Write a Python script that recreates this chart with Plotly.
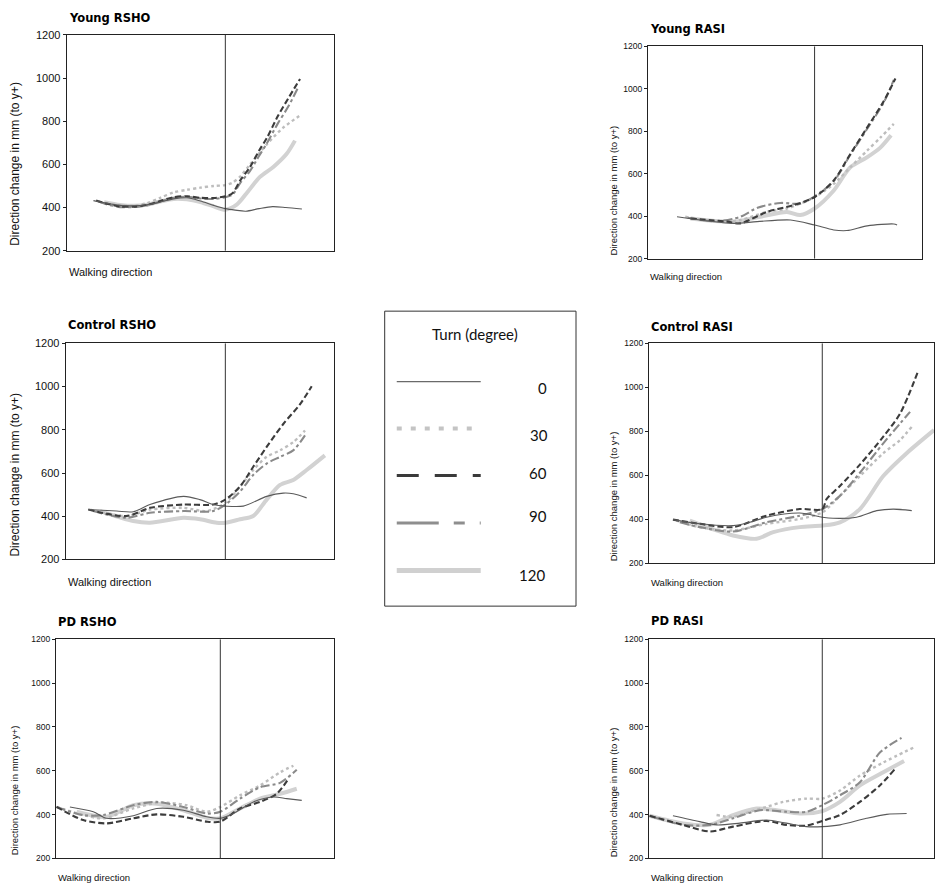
import plotly.graph_objects as go

W, H = 952, 894

# ---------------- data (x = % of walking path shown, y = mm) ----------------
TURNS = ["0", "30", "60", "90", "120"]
Y_TICKS = [200, 400, 600, 800, 1000, 1200]

young_rsho = {
    "0":   ([10, 15, 20, 25, 30, 35, 40, 45, 50, 55, 59.35, 63, 67, 72, 77, 82, 88],
            [432, 420, 410, 408, 413, 425, 440, 445, 430, 410, 395, 388, 383, 395, 404, 400, 393]),
    "30":  ([12.5, 20, 25, 30, 35, 40, 45, 50, 55, 59.35, 62, 65, 68.6, 75, 81, 87.9],
            [425, 410, 408, 420, 445, 470, 482, 492, 500, 504, 515, 545, 600, 695, 770, 832]),
    "60":  ([11, 15, 20, 25, 30, 35, 40, 45, 50, 55, 59.35, 62, 65, 68.6, 72, 75, 79, 83, 87.3],
            [432, 418, 405, 404, 412, 430, 448, 452, 445, 444, 452, 466, 527, 588, 664, 725, 824, 908, 996]),
    "90":  ([12, 15, 20, 25, 30, 35, 40, 45, 50, 55, 59.35, 62, 65, 68.6, 72, 75, 79, 83, 86.5],
            [428, 415, 402, 402, 410, 428, 445, 450, 442, 440, 448, 460, 515, 570, 640, 700, 790, 870, 955]),
    "120": ([14, 20, 25, 30, 35, 40, 45, 50, 55, 59.35, 63.6, 67.3, 72.3, 77.3, 82.3, 85.4],
            [425, 412, 408, 413, 428, 440, 438, 425, 405, 390, 413, 466, 542, 588, 649, 710]),
}

young_rasi = {
    "0":   ([10.6, 20, 31.3, 39.8, 52, 60.8, 67.8, 72.6, 80, 89.7, 90.9],
            [397, 380, 366, 374, 382, 358, 335, 332, 354, 363, 358]),
    "30":  ([13.6, 25.2, 33.7, 43.4, 50.7, 60.8, 67.8, 73.8, 79.9, 84.8, 89.7],
            [397, 374, 382, 420, 436, 490, 552, 630, 708, 770, 835]),
    "60":  ([15.5, 28.8, 33.7, 43.4, 53.2, 60.8, 67.8, 73.8, 79.9, 86, 90.3],
            [389, 374, 366, 420, 452, 490, 568, 692, 816, 941, 1049]),
    "90":  ([14.5, 25, 33.7, 40, 48.3, 55.6, 60.8, 67.8, 73.8, 79.9, 86, 89.7],
            [392, 376, 397, 440, 462, 459, 493, 565, 688, 810, 935, 1042]),
    "120": ([15.5, 31.3, 41, 50.7, 55.6, 60.8, 67.8, 73.8, 79.9, 84.8, 88.7],
            [389, 374, 397, 420, 405, 436, 521, 630, 677, 723, 781]),
}

control_rsho = {
    "0":   ([8.4, 19, 25.2, 31.4, 43.9, 50, 55, 59.5, 66.2, 74.9, 81.1, 84.8, 89.8],
            [431, 424, 421, 454, 492, 477, 454, 447, 447, 492, 507, 504, 485]),
    "30":  ([9.1, 22.7, 31.4, 43.9, 52.5, 59.5, 65, 69.9, 74.9, 79.9, 84.8, 89.2],
            [431, 401, 431, 439, 424, 462, 538, 614, 675, 705, 743, 797]),
    "60":  ([8.4, 22.7, 31.4, 43.9, 55, 59.5, 65, 69.9, 74.9, 81.1, 87.3, 91.7],
            [431, 401, 439, 454, 454, 477, 538, 629, 721, 827, 918, 1002]),
    "90":  ([10.3, 22.7, 31.4, 43.9, 55, 59.5, 65, 69.9, 74.9, 79.9, 84.8, 89.2],
            [424, 393, 416, 424, 424, 454, 515, 591, 644, 675, 705, 774]),
    "120": ([12.8, 25.2, 31.4, 43.9, 50.1, 56.3, 59.5, 65, 69.9, 74.9, 79.9, 84.8, 89.8, 96.6],
            [424, 378, 370, 393, 386, 370, 370, 386, 401, 477, 545, 568, 614, 682]),
}

control_rasi = {
    "0":   ([8.4, 17.8, 29.5, 35.4, 41.2, 52.9, 60.8, 64.6, 72.8, 79.9, 85.7, 92.2],
            [399, 380, 372, 387, 410, 429, 410, 405, 410, 440, 447, 440]),
    "30":  ([9.6, 17.8, 29.5, 41.2, 52.9, 60.8, 67, 74, 82.2, 88.1, 92.2],
            [395, 365, 350, 380, 402, 432, 507, 597, 701, 761, 821]),
    "60":  ([8.4, 17.8, 29.5, 41.2, 52.9, 60.8, 62.3, 67, 74, 82.2, 88.1, 94.5],
            [399, 380, 365, 417, 447, 447, 492, 552, 649, 776, 881, 1076]),
    "90":  ([10.8, 17.8, 29.5, 41.2, 52.9, 60.8, 67, 74, 82.2, 88.1, 91.6],
            [387, 365, 345, 387, 417, 447, 507, 612, 746, 836, 889]),
    "120": ([14.3, 23.7, 29.5, 37.7, 43.6, 52.9, 60.8, 67, 74, 82.2, 90.4, 100],
            [395, 350, 327, 312, 342, 365, 372, 387, 447, 597, 701, 806]),
}

pd_rsho = {
    "0":   ([5, 13.4, 18.2, 27.8, 36.2, 45.8, 54.2, 59.1, 63.8, 71, 78.2, 83, 88.4],
            [435, 413, 383, 395, 428, 420, 390, 383, 405, 458, 480, 473, 465]),
    "30":  ([0.2, 9.8, 17, 27.8, 37.4, 47, 54.2, 59.1, 66.2, 73.4, 80.6, 85.4],
            [435, 398, 383, 428, 455, 443, 413, 435, 488, 533, 593, 623]),
    "60":  ([0.2, 9.8, 18.2, 27.8, 36.2, 45.8, 54.2, 59.1, 66.2, 73.4, 79.4, 83.6],
            [435, 375, 360, 383, 401, 390, 368, 368, 428, 458, 495, 563]),
    "90":  ([0.2, 9.8, 17, 27.8, 36.2, 45.8, 54.2, 59.1, 66.2, 73.4, 80.6, 86.6],
            [435, 398, 398, 443, 458, 435, 405, 413, 473, 525, 545, 605]),
    "120": ([7.4, 18.2, 27.8, 36.2, 45.8, 54.2, 59.1, 66.2, 73.4, 80.6, 86.6],
            [413, 390, 443, 450, 420, 386, 383, 428, 473, 495, 518]),
}

pd_rasi = {
    "0":   ([8.4, 17.8, 23.7, 31.9, 41.2, 48.2, 55.3, 60.8, 67, 76.3, 83.4, 90.4],
            [395, 368, 353, 361, 375, 361, 345, 345, 353, 383, 401, 405]),
    "30":  ([23.7, 29.5, 35.4, 41.2, 47.1, 55.3, 60.8, 67, 74, 82.2, 92.7],
            [398, 390, 413, 435, 458, 473, 473, 510, 578, 638, 705]),
    "60":  ([0.2, 11.9, 21.3, 29.5, 41.2, 48.2, 55.3, 60.8, 67, 74, 81, 86.3],
            [395, 353, 323, 345, 371, 353, 350, 371, 398, 458, 533, 608]),
    "90":  ([0.2, 11.9, 21.3, 29.5, 38.9, 48.2, 55.3, 60.8, 67, 74, 81, 88.6],
            [395, 353, 353, 383, 420, 413, 413, 443, 488, 548, 683, 750]),
    "120": ([0.2, 11.9, 21.3, 29.5, 37.7, 44.8, 52.9, 60.8, 67, 74, 82.2, 89.5],
            [395, 360, 353, 398, 428, 420, 405, 416, 458, 533, 593, 645]),
}

PANEL_TITLES = ["Young RSHO", "Young RASI", "Control RSHO", "Control RASI", "PD RSHO", "PD RASI"]
PANEL_DATA = [young_rsho, young_rasi, control_rsho, control_rasi, pd_rsho, pd_rasi]
TURN_POINT = [59.35, 60.8, 59.5, 60.8, 59.1, 60.8]   # x where the turn starts (vertical line)

# ---------------- styles ----------------
STYLE = {
    "0":   dict(color="#5a5a5a", width=1.1, dash="solid"),
    "30":  dict(color="#bdbdbd", width=2.4, dash="dot"),
    "60":  dict(color="#3c3c3c", width=2.1, dash="6px,3px"),
    "90":  dict(color="#8a8a8a", width=2.1, dash="9px,3px,3px,3px"),
    "120": dict(color="#d2d2d2", width=4.0, dash="solid"),
}
DRAW_ORDER = ["120", "30", "90", "60", "0"]

# panel boxes in pixels: left, top, right, bottom ; big = larger fonts
BOXES = [
    (66.7, 29.3, 334, 248, True),
    (648, 41, 922, 256, False),
    (65.7, 342, 334, 561, True),
    (649, 342, 934, 565, False),
    (56, 642, 334, 864, False),
    (649, 642, 934, 864, False),
]
TITLE_Y = [12, 23, 323, 325, 624, 623]
WALK_Y = [270, 274, 584, 584, 883, 883]
YTITLE = [(15, 160), (613, 187), (15, 475), (613, 497), (14, 795), (613, 797)]

FONT = "Liberation Sans, Arial, sans-serif"
TITLE_FONT = "DejaVu Sans, sans-serif"

def px(xp):
    return xp / W

def py(yp):
    return 1 - yp / H

fig = go.Figure()
layout = dict(width=W, height=H, margin=dict(l=0, r=0, t=0, b=0),
              paper_bgcolor="white", plot_bgcolor="white", showlegend=False)
shapes = []
annotations = []

for i, (title, data, turn, box) in enumerate(zip(PANEL_TITLES, PANEL_DATA, TURN_POINT, BOXES)):
    k = "" if i == 0 else str(i + 1)
    l, t, r, b, big = box
    tick_size = 11 if big else 8.5
    ytitle_size = 12 if big else 9.5
    walk_size = 11 if big else 9.5
    layout["xaxis" + k] = dict(domain=[px(l), px(r)], range=[0, 100], anchor="y" + k,
                               showticklabels=False, ticks="", showgrid=False, zeroline=False,
                               showline=True, mirror=True, linecolor="#222", linewidth=1)
    layout["yaxis" + k] = dict(domain=[py(b), py(t)], range=[200, 1200], anchor="x" + k,
                               tickvals=Y_TICKS, ticks="outside", ticklen=3, tickcolor="#222",
                               tickfont=dict(family=FONT, size=tick_size, color="#111"),
                               showgrid=False, zeroline=False,
                               showline=True, mirror=True, linecolor="#222", linewidth=1.2)
    for turn_lbl in DRAW_ORDER:
        xs, ys = data[turn_lbl]
        fig.add_trace(go.Scatter(x=xs, y=ys, mode="lines", xaxis="x" + k, yaxis="y" + k,
                                 line=dict(shape="spline", smoothing=0.8, **STYLE[turn_lbl]),
                                 name=turn_lbl, hoverinfo="skip"))
    shapes.append(dict(type="line", xref="x" + k, yref="y" + k + " domain",
                       x0=turn, x1=turn, y0=0, y1=1, line=dict(color="#333", width=1)))
    annotations.append(dict(text="<b>" + title + "</b>", xref="paper", yref="paper",
                            x=px(l), y=py(TITLE_Y[i]), xanchor="left", yanchor="middle",
                            showarrow=False, font=dict(family=TITLE_FONT, size=11.5, color="#000")))
    annotations.append(dict(text="Walking direction", xref="paper", yref="paper",
                            x=px(l), y=py(WALK_Y[i]), xanchor="left", yanchor="middle",
                            showarrow=False, font=dict(family=FONT, size=walk_size, color="#111")))
    annotations.append(dict(text="Direction change in mm (to y+)", xref="paper", yref="paper",
                            x=px(YTITLE[i][0]), y=py(YTITLE[i][1]), xanchor="center", yanchor="middle",
                            textangle=-90, showarrow=False,
                            font=dict(family=FONT, size=ytitle_size, color="#111")))

# ---------------- legend box (own axis spanning the box) ----------------
LEG = (384.7, 309.3, 576, 608.3)
LEG_LINE_Y = [0.761, 0.602, 0.443, 0.282, 0.121]
LEG_LABEL_POS = [(0.827, 0.740), (0.807, 0.580), (0.80, 0.450), (0.80, 0.305), (0.77, 0.105)]
LEG_STYLE = {
    "0":   dict(color="#6a6a6a", width=1.2, dash="solid"),
    "30":  dict(color="#c4c4c4", width=4, dash="5px,9px"),
    "60":  dict(color="#3a3a3a", width=3, dash="22px,16px"),
    "90":  dict(color="#8e8e8e", width=3, dash="42px,15px,11px,15px"),
    "120": dict(color="#d0d0d0", width=5, dash="solid"),
}
layout["xaxis7"] = dict(domain=[px(LEG[0]), px(LEG[2])], range=[0, 1], anchor="y7", visible=False)
layout["yaxis7"] = dict(domain=[py(LEG[3]), py(LEG[1])], range=[0, 1], anchor="x7", visible=False)
shapes.append(dict(type="rect", xref="x7 domain", yref="y7 domain", x0=0, x1=1, y0=0, y1=1,
                   line=dict(color="#333", width=1)))
for lbl, ly, (tx, ty) in zip(TURNS, LEG_LINE_Y, LEG_LABEL_POS):
    fig.add_trace(go.Scatter(x=[0.063, 0.502], y=[ly, ly], mode="lines", xaxis="x7", yaxis="y7",
                             line=LEG_STYLE[lbl], hoverinfo="skip"))
    annotations.append(dict(text=lbl, xref="x7", yref="y7", x=tx, y=ty, xanchor="center",
                            yanchor="middle", showarrow=False,
                            font=dict(family="Lato, sans-serif", size=15, color="#111")))
annotations.append(dict(text="Turn (degree)", xref="x7", yref="y7", x=0.472, y=0.921,
                        xanchor="center", yanchor="middle", showarrow=False,
                        font=dict(family="Lato, sans-serif", size=15, color="#111")))

layout["shapes"] = shapes
layout["annotations"] = annotations
fig.update_layout(**layout)
fig.write_html("out.html")
